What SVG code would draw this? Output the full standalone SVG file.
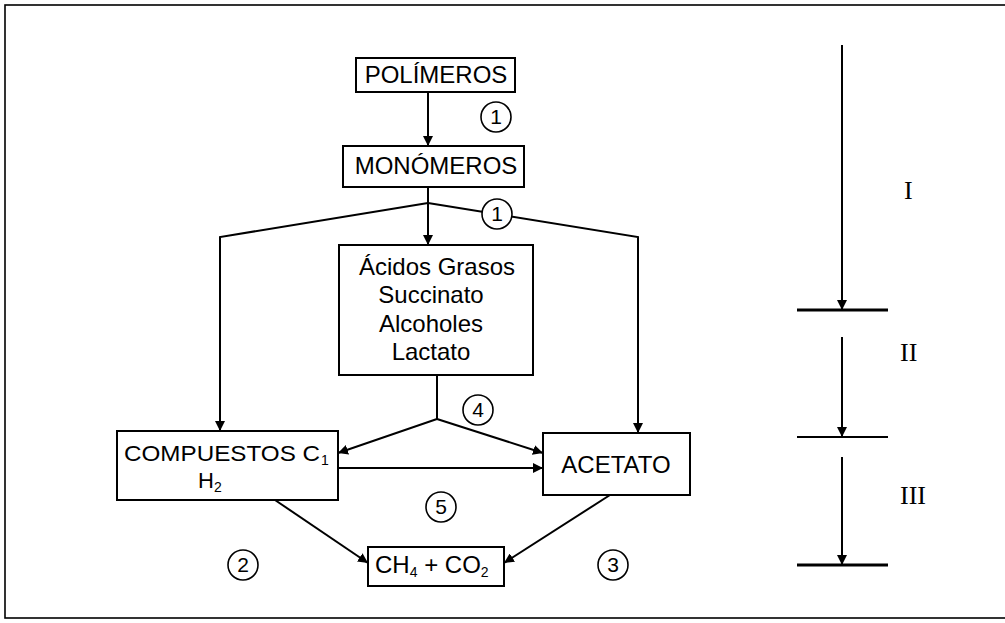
<svg xmlns="http://www.w3.org/2000/svg" width="1005" height="623" viewBox="0 0 1005 623">
<style>
.box{fill:#fff;stroke:#000;stroke-width:2}
.t{font-family:"Liberation Sans",Arial,sans-serif;font-size:24px;fill:#000}
.sub{font-size:14px}
.c{fill:#fff;stroke:#000;stroke-width:1.6}
.ct{font-family:"Liberation Sans",Arial,sans-serif;font-size:21px;fill:#000;text-anchor:middle}
.ln{fill:none;stroke:#000;stroke-width:2}
.rn{font-family:"Liberation Serif","Times New Roman",serif;font-size:26px;fill:#000}
</style>
<defs>
<marker id="ah" viewBox="0 0 10 10" refX="10" refY="5" markerWidth="10" markerHeight="10" markerUnits="userSpaceOnUse" orient="auto">
<path d="M0,0 L10,5 L0,10 z" fill="#000"/>
</marker>
</defs>
<rect x="5" y="5" width="1010" height="613" fill="#fff" stroke="#000" stroke-width="1.6"/>

<g id="connectors">
<line class="ln" x1="428" y1="92" x2="428" y2="146" marker-end="url(#ah)"/>
<line class="ln" x1="428" y1="187" x2="428" y2="245" marker-end="url(#ah)"/>
<polyline class="ln" points="428,203 220,237 220,431" marker-end="url(#ah)"/>
<polyline class="ln" points="428,203 638,237 638,433" marker-end="url(#ah)"/>
<polyline class="ln" points="437,375 437,419 338,453" marker-end="url(#ah)"/>
<line class="ln" x1="437" y1="419" x2="543" y2="453" marker-end="url(#ah)"/>
<line class="ln" x1="338" y1="468" x2="543" y2="468" marker-end="url(#ah)"/>
<line class="ln" x1="275" y1="500" x2="368" y2="563" marker-end="url(#ah)"/>
<line class="ln" x1="610" y1="495" x2="504" y2="563" marker-end="url(#ah)"/>
<line class="ln" x1="842" y1="45" x2="842" y2="310" marker-end="url(#ah)"/>
<line class="ln" x1="842" y1="337" x2="842" y2="437" marker-end="url(#ah)"/>
<line class="ln" x1="842" y1="457" x2="842" y2="565" marker-end="url(#ah)"/>
<line x1="797" y1="310" x2="888" y2="310" stroke="#000" stroke-width="3"/>
<line x1="797" y1="437" x2="888" y2="437" stroke="#000" stroke-width="1.8"/>
<line x1="797" y1="565" x2="888" y2="565" stroke="#000" stroke-width="3"/>
</g>

<g id="polimeros">
<rect class="box" x="356" y="58" width="159" height="34"/>
<text class="t" x="436" y="83" text-anchor="middle">POLÍMEROS</text>
</g>
<g id="step1a">
<circle class="c" cx="496" cy="117" r="15"/>
<text class="ct" x="496" y="124">1</text>
</g>
<g id="monomeros">
<rect class="box" x="343" y="146" width="181" height="41"/>
<text class="t" x="436" y="174" text-anchor="middle">MONÓMEROS</text>
</g>
<g id="step1b">
<circle class="c" cx="497" cy="214" r="15"/>
<text class="ct" x="497" y="221">1</text>
</g>
<g id="acidos">
<rect class="box" x="339" y="245" width="194" height="130"/>
<text class="t" x="437" y="275" text-anchor="middle">Ácidos Grasos</text>
<text class="t" x="431" y="303" text-anchor="middle">Succinato</text>
<text class="t" x="431" y="332" text-anchor="middle">Alcoholes</text>
<text class="t" x="431" y="360" text-anchor="middle">Lactato</text>
</g>
<g id="step4">
<circle class="c" cx="478" cy="410" r="15"/>
<text class="ct" x="478" y="417">4</text>
</g>
<g id="compuestos">
<rect class="box" x="117" y="431" width="221" height="69"/>
<text class="t" x="124" y="461" style="font-size:22px" textLength="196" lengthAdjust="spacingAndGlyphs">COMPUESTOS C</text>
<text class="t sub" x="321" y="465">1</text>
<text class="t" x="198" y="488" style="font-size:22px">H<tspan class="sub" dy="4">2</tspan></text>
</g>
<g id="acetato">
<rect class="box" x="543" y="433" width="147" height="62"/>
<text class="t" x="616" y="473" text-anchor="middle">ACETATO</text>
</g>
<g id="step5">
<circle class="c" cx="441" cy="507" r="15"/>
<text class="ct" x="441" y="514">5</text>
</g>
<g id="ch4">
<rect class="box" x="368" y="547" width="136" height="39"/>
<text class="t" x="375" y="573">CH<tspan class="sub" dy="4">4</tspan><tspan dy="-4">  + CO</tspan><tspan class="sub" dy="4">2</tspan></text>
</g>
<g id="step2">
<circle class="c" cx="243" cy="565" r="15"/>
<text class="ct" x="243" y="572">2</text>
</g>
<g id="step3">
<circle class="c" cx="613" cy="565" r="15"/>
<text class="ct" x="613" y="572">3</text>
</g>
<g id="stages">
<text class="rn" x="904" y="199">I</text>
<text class="rn" x="900" y="361">II</text>
<text class="rn" x="900" y="504">III</text>
</g>
</svg>
